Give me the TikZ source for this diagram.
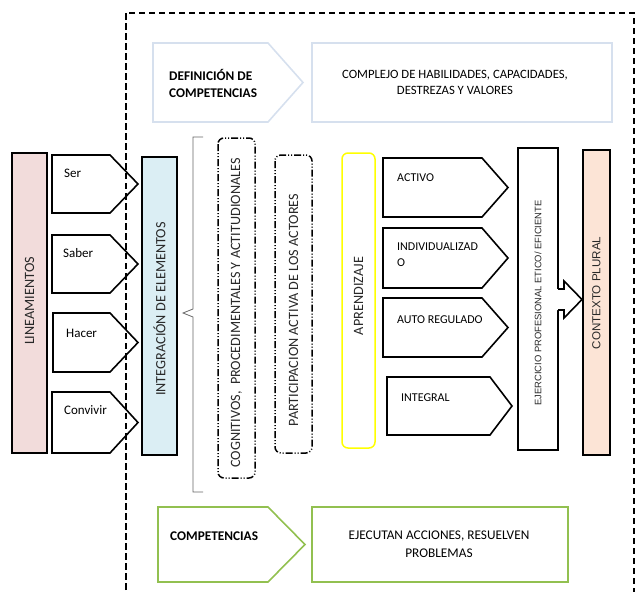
\documentclass[tikz,border=0pt]{standalone}
\usepackage{fontspec}
\setmainfont{Carlito}
\newfontfamily\arialf{Liberation Sans}
\definecolor{topblue}{RGB}{214,224,238}
\definecolor{grn}{RGB}{146,192,80}
\definecolor{pinkf}{RGB}{242,220,219}
\definecolor{bluef}{RGB}{219,238,244}
\definecolor{peachf}{RGB}{252,228,214}
\definecolor{yel}{RGB}{255,255,0}
\definecolor{vtcol}{RGB}{40,40,40}
\tikzset{
  blk/.style={draw=black,line width=1.6pt,fill=white,line join=miter},
  bar/.style={draw=black,line width=1.6pt},
  dd/.style={draw=black,line width=1.5pt,rounded corners=6pt,dash pattern=on 7pt off 2pt on 1pt off 2pt on 1pt off 2pt},
  vtxt/.style={rotate=90,text=vtcol,font=\fontsize{14.2}{16}\selectfont,inner sep=0pt},
  ltxt/.style={anchor=west,font=\fontsize{13}{15}\selectfont,inner sep=0pt},
  rtxt/.style={anchor=west,font=\fontsize{12}{14}\selectfont,inner sep=0pt},
  ctxt/.style={align=center,inner sep=0pt},
}
\begin{document}
\begin{tikzpicture}[x=1pt,y=-1pt]
\useasboundingbox (0,0) rectangle (638,592);
% outer dashed frame
\draw[black,line width=1.2pt,dash pattern=on 6pt off 4pt] (126,600) -- (126,13) -- (634,13) -- (634,600);
% top row
\draw[draw=topblue,line width=1.6pt] (153,43) -- (268,43) -- (303,82.5) -- (268,122) -- (153,122) -- cycle;
\node[ltxt,align=left,font=\bfseries\fontsize{13.3}{17}\selectfont] (defin) at (169,83) {DEFINICIÓN DE\\COMPETENCIAS};
\draw[draw=topblue,line width=1.6pt] (312,43) rectangle (612,122);
\node[ctxt,font=\fontsize{12.7}{16}\selectfont] (complejo) at (455,82) {COMPLEJO DE HABILIDADES, CAPACIDADES,\\DESTREZAS Y VALORES};
% bottom row
\draw[draw=grn,line width=1.6pt] (158,507) -- (268,507) -- (305,544.5) -- (268,582) -- (158,582) -- cycle;
\node[ltxt,font=\bfseries\fontsize{13.3}{15}\selectfont] (compet) at (170,536) {COMPETENCIAS};
\draw[draw=grn,line width=1.6pt] (312,507) rectangle (568,582);
\node[ctxt,font=\fontsize{13.3}{18}\selectfont] (ejecutan) at (439,544) {EJECUTAN ACCIONES, RESUELVEN\\PROBLEMAS};
% left bar
\draw[bar,fill=pinkf] (12,153) rectangle (47,453);
\node[vtxt] (linea) at (29.5,301) {LINEAMIENTOS};
% pentagons left
\draw[blk] (52,155) -- (110,155) -- (138,184) -- (110,213) -- (52,213) -- cycle;
\node[ltxt] (ser) at (64,173) {Ser};
\draw[blk] (52,235) -- (110,235) -- (138,264) -- (110,293) -- (52,293) -- cycle;
\node[ltxt] (saber) at (63,253) {Saber};
\draw[blk] (53,313) -- (110,313) -- (138,342.5) -- (110,372) -- (53,372) -- cycle;
\node[ltxt] (hacer) at (66,333) {Hacer};
\draw[blk] (52,392) -- (110,392) -- (138,422.5) -- (110,453) -- (52,453) -- cycle;
\node[ltxt] (convivir) at (64,410) {Convivir};
% redraw dashed line over pentagon tips
\draw[black,line width=1.2pt,dash pattern=on 6pt off 4pt] (126,13) -- (126,600);
% integracion
\draw[bar,fill=bluef] (142,157) rectangle (177,455);
\node[vtxt] (integ) at (159.5,309) {INTEGRACIÓN DE ELEMENTOS};
% brace
\draw[black!60,line width=0.8pt] (203,137) -- (193,137) -- (193,309) -- (183,313) -- (193,317) -- (193,492) -- (203,492);
% dash-dot boxes
\draw[dd] (218,138) rectangle (255,478);
\node[vtxt] (cogn) at (236.5,313) {COGNITIVOS, \ PROCEDIMENTALES Y ACTITUDIONALES};
\draw[dd] (275,155) rectangle (312,453);
\node[vtxt] (partic) at (293.5,310) {PARTICIPACION ACTIVA DE LOS ACTORES};
% aprendizaje
\draw[draw=yel,line width=1.5pt,rounded corners=6pt] (342,153) rectangle (375,448);
\node[vtxt] (apren) at (358.5,296) {APRENDIZAJE};
% right pentagons
\draw[blk] (383,158) -- (482,158) -- (508,187.5) -- (482,217) -- (383,217) -- cycle;
\node[rtxt] (activo) at (397,178) {ACTIVO};
\draw[blk] (383,228) -- (482,228) -- (508,258) -- (482,288) -- (383,288) -- cycle;
\node[rtxt,align=left,font=\fontsize{12}{16}\selectfont] (indiv) at (397,255) {INDIVIDUALIZAD\\O};
\draw[blk] (383,298) -- (482,298) -- (508,327.5) -- (482,357) -- (383,357) -- cycle;
\node[rtxt] (auto) at (397,320) {AUTO REGULADO};
\draw[blk] (387,377) -- (490,377) -- (512,406) -- (490,435) -- (387,435) -- cycle;
\node[rtxt] (integral) at (401,398) {INTEGRAL};
% ejercicio
\draw[bar,fill=white] (518,148) rectangle (558,450);
\node[vtxt,font=\arialf\fontsize{9.4}{10}\selectfont] (ejer) at (538,303) {EJERCICIO PROFESIONAL ETICO/ EFICIENTE};
% contexto
\draw[bar,fill=peachf] (583,150) rectangle (610,455);
\node[vtxt,font=\arialf\fontsize{11.6}{12}\selectfont] (contexto) at (596.5,293) {CONTEXTO PLURAL};
% block arrow
\fill[white] (557,289) -- (564,289) -- (564,281) -- (582,299.5) -- (564,318) -- (564,310) -- (557,310) -- cycle;
\draw[black,line width=1.6pt,line join=miter] (558,289) -- (564,289) -- (564,281) -- (582,299.5) -- (564,318) -- (564,310) -- (558,310);
\end{tikzpicture}
\end{document}
